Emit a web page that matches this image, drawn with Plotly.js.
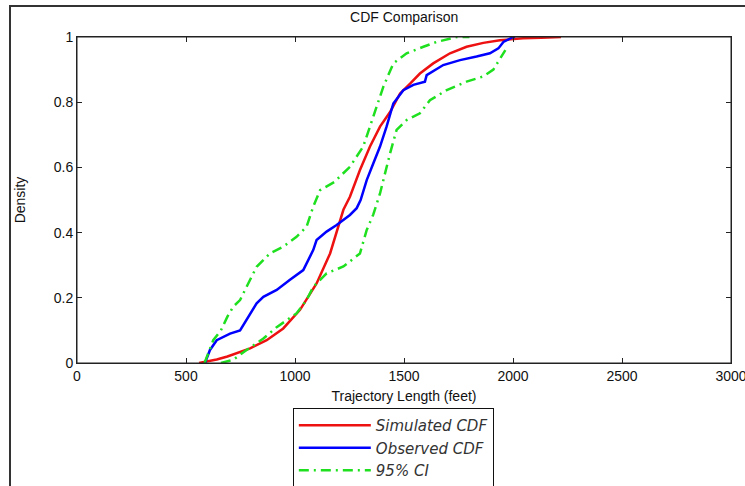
<!DOCTYPE html>
<html>
<head>
<meta charset="utf-8">
<script src="https://cdn.plot.ly/plotly-3.0.1.min.js"></script>
<style>
html,body{margin:0;padding:0;background:#fff;}
#wrap{position:relative;width:745px;height:486px;overflow:hidden;}
#chart{position:absolute;left:0;top:0;width:745px;height:486px;}
#frame{position:absolute;left:9px;top:5px;width:745px;height:479px;border-left:2px solid #333;border-top:2px solid #333;border-bottom:1px solid #c8c8c8;pointer-events:none;}
</style>
</head>
<body>
<div id="wrap"><div id="chart"></div><div id="frame"></div></div>
<script>
// Simulated CDF (red)
var simX = [560, 600, 641, 690, 733, 794, 870, 946, 1023, 1099, 1161, 1191, 1222, 1252, 1298, 1344, 1390, 1436, 1482, 1528, 1573, 1634, 1711, 1787, 1864, 1940, 2046, 2130, 2220];
var simY = [0, 0.005, 0.011, 0.02, 0.03, 0.045, 0.07, 0.106, 0.163, 0.244, 0.336, 0.405, 0.47, 0.51, 0.592, 0.664, 0.725, 0.77, 0.827, 0.857, 0.888, 0.919, 0.95, 0.97, 0.982, 0.99, 0.996, 0.998, 1.0];
// Observed CDF (blue)
var obsX = [587, 600, 610, 641, 702, 748, 778, 824, 855, 916, 977, 1038, 1084, 1099, 1145, 1191, 1252, 1283, 1301, 1329, 1359, 1390, 1420, 1451, 1497, 1543, 1596, 1600, 1604, 1680, 1757, 1833, 1894, 1933, 1956, 2001, 2010];
var obsY = [0, 0.02, 0.04, 0.07, 0.09, 0.10, 0.132, 0.183, 0.203, 0.224, 0.255, 0.285, 0.347, 0.377, 0.403, 0.423, 0.454, 0.475, 0.5, 0.561, 0.612, 0.664, 0.725, 0.796, 0.837, 0.853, 0.863, 0.875, 0.883, 0.914, 0.929, 0.94, 0.95, 0.965, 0.985, 1.0, 1.0];
// 95% CI upper band (left green curve)
var ciUpX = [585, 625, 660, 690, 717, 748, 778, 824, 885, 946, 1007, 1053, 1084, 1115, 1180, 1252, 1313, 1359, 1405, 1451, 1512, 1589, 1650, 1742, 1800];
var ciUpY = [0, 0.07, 0.1, 0.142, 0.173, 0.193, 0.234, 0.295, 0.336, 0.357, 0.387, 0.418, 0.48, 0.53, 0.555, 0.602, 0.664, 0.755, 0.847, 0.919, 0.95, 0.97, 0.985, 1.0, 1.0];
// 95% CI lower band (right green curve)
var ciLoX = [660, 717, 778, 855, 916, 1007, 1053, 1084, 1145, 1222, 1298, 1329, 1359, 1390, 1436, 1466, 1512, 1573, 1619, 1696, 1787, 1864, 1910, 1956, 1965];
var ciLoY = [0, 0.01, 0.04, 0.075, 0.11, 0.152, 0.193, 0.234, 0.275, 0.296, 0.336, 0.408, 0.455, 0.52, 0.643, 0.715, 0.745, 0.766, 0.806, 0.837, 0.863, 0.879, 0.9, 0.95, 0.96];
var legendNames = ['Simulated CDF', 'Observed CDF', '95% CI'];

var green = '#1fe01f';
var traces = [
  {x: simX, y: simY, type: 'scatter', mode: 'lines', name: legendNames[0], legendgroup: 'a',
   line: {color: '#ee1111', width: 2.5}},
  {x: obsX, y: obsY, type: 'scatter', mode: 'lines', name: legendNames[1], legendgroup: 'b',
   line: {color: '#0000ff', width: 2.5}},
  {x: ciUpX, y: ciUpY, type: 'scatter', mode: 'lines', name: legendNames[2], legendgroup: 'c',
   line: {color: green, width: 2.5, dash: '10px,5px,2px,5px'}},
  {x: ciLoX, y: ciLoY, type: 'scatter', mode: 'lines', name: legendNames[2], legendgroup: 'c', showlegend: false,
   line: {color: green, width: 2.5, dash: '10px,5px,2px,5px'}}
];

var axisFont = {family: 'Liberation Sans, Arial, sans-serif', size: 14, color: '#111'};
var layout = {
  width: 745, height: 486,
  margin: {l: 77, r: 14, t: 37, b: 123, autoexpand: false},
  paper_bgcolor: 'rgba(0,0,0,0)', plot_bgcolor: '#fff',
  font: axisFont,
  title: {text: 'CDF Comparison', font: {family: 'Liberation Sans, Arial, sans-serif', size: 14, color: '#111'},
          x: 0.5425, xanchor: 'center', y: 0.965, yanchor: 'middle'},
  xaxis: {range: [0, 3000], dtick: 500, tick0: 0, showgrid: false, zeroline: false,
          showline: true, mirror: 'ticks', linecolor: '#222', linewidth: 1,
          ticks: 'inside', ticklen: 5, tickcolor: '#222', tickfont: axisFont,
          ticklabeloverflow: 'allow',
          title: {text: 'Trajectory Length (feet)', font: axisFont, standoff: 8}},
  yaxis: {range: [0, 1], dtick: 0.2, showgrid: false, zeroline: false,
          showline: true, mirror: 'ticks', linecolor: '#222', linewidth: 1,
          ticks: 'inside', ticklen: 5, tickcolor: '#222', tickfont: axisFont,
          title: {text: 'Density', font: axisFont, standoff: 24}},
  shapes: [{type: 'rect', xref: 'paper', yref: 'paper', x0: 0, x1: 1, y0: 0, y1: 1,
            line: {color: '#222', width: 1}, fillcolor: 'rgba(0,0,0,0)', layer: 'above'}],
  showlegend: true,
  legend: {x: 0.33, y: -0.138, xanchor: 'left', yanchor: 'top',
           bordercolor: '#111', borderwidth: 1, bgcolor: '#fff',
           traceorder: 'grouped', tracegroupgap: 0, itemwidth: 72,
           font: {family: 'DejaVu Sans, sans-serif', size: 15, color: '#333', style: 'italic'}}
};
Plotly.newPlot('chart', traces, layout, {displayModeBar: false, staticPlot: true});
</script>
</body>
</html>
